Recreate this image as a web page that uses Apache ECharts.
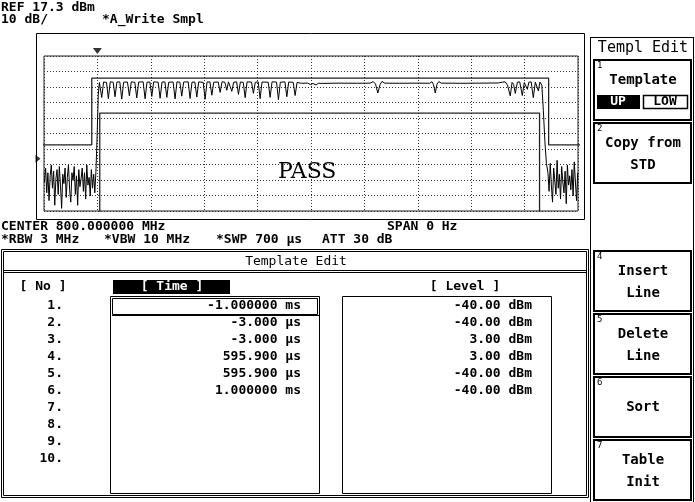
<!DOCTYPE html>
<html>
<head>
<meta charset="utf-8">
<script src="https://cdn.jsdelivr.net/npm/echarts@6/dist/echarts.min.js"></script>
<style>
  html, body { margin: 0; padding: 0; background: #fff; }
  #chart { width: 695px; height: 502px; }
</style>
</head>
<body>
<div id="chart"></div>
<script>
// ---- Analyzer settings ----
const refLevel = 17.3;          // dBm at top of screen
const dbPerDiv = 10;            // dB per vertical division
const sweepUs = 700;            // sweep time, µs
const sweepStartUs = -65.6;     // time at left edge of screen, µs
const trigLevel = -49;          // dBm, trigger level marker
const centerText = 'CENTER 800.000000 MHz';
const spanText = 'SPAN 0 Hz';

// ---- Upper template (table contents) ----
const upTimesUs = [-1000, -3, -3, 595.9, 595.9, 1000];
const upLevels  = [-40, -40, 3, 3, -40, -40];

// ---- Lower template ----
const lowTimesUs = [-1000, 7.5, 7.5, 584, 584, 1000];
const lowLevels  = [-200, -200, -19.5, -19.5, -200, -200];

// ---- Measured burst trace [time µs, level dBm] ----
const trace = [
  [-65,-64],[-63.5,-55],[-62,-71],[-60.5,-58],[-59,-76],[-57.5,-60],[-56,-53],[-54.5,-68],
  [-53,-57],[-51.5,-79],[-50,-62],[-48.5,-56],[-47,-72],[-45.5,-54],[-44,-66],[-42.5,-81],
  [-41,-59],[-39.5,-65],[-38,-55],[-36.5,-74],[-35,-61],[-33.5,-53],[-32,-69],[-30.5,-77],
  [-29,-58],[-27.5,-63],[-26,-54],[-24.5,-72],[-23,-60],[-21.5,-79],[-20,-56],[-18.5,-67],
  [-17,-62],[-15.5,-55],[-14,-70],[-12.5,-58],[-11,-75],[-9.5,-53],[-8,-66],[-6.5,-61],
  [-5,-73],[-3.5,-56],[-2,-68],[-0.5,-59],[1,-71],[2.5,-57],
  [4,-35],[5.5,-8],[7,0.2],
  [10.1,-9.5],[12.5,0.5],[16.3,0.3],
  [18.8,-10.2],[21.2,0.6],[25.1,0.4],
  [27.5,-9.0],[30.0,0.5],[33.8,0.6],
  [36.3,-10.5],[38.8,0.4],[43.8,0.5],
  [46.3,-8.4],[48.8,0.6],[53.5,0.3],
  [56.0,-9.8],[58.5,0.5],[64.4,0.6],
  [66.9,-10.3],[69.4,0.4],[73.2,0.5],
  [75.7,-8.8],[78.2,0.6],[84.1,0.4],
  [86.6,-10.0],[89.1,0.5],[92.9,0.6],
  [95.4,-9.4],[97.9,0.4],[103.7,0.5],
  [106.2,-10.4],[108.7,0.6],[112.5,0.4],
  [115.0,-8.6],[117.5,0.5],[123.4,0.6],
  [125.9,-10.1],[128.4,0.4],[132.2,0.5],
  [134.7,-9.2],[137.2,0.6],[143.1,0.3],
  [145.6,-10.6],[148.1,0.5],[151.9,0.6],
  [154.4,-8.0],[156.9,0.4],[162.8,0.5],
  [165.3,-6.2],[167.8,0.7],[171.5,0.4],
  [174.0,-4.8],[176.2,0.6],[178.4,0.5],
  [180.6,-5.5],[183.0,0.4],[186.9,0.6],
  [189.3,-7.4],[191.8,0.5],[195.6,0.3],
  [198.1,-9.6],[200.6,0.6],[206.4,0.5],
  [208.9,-6.8],[211.4,0.4],[215.2,0.6],
  [217.7,-10.2],[220.2,0.5],[228.3,0.4],
  [230.8,-9.4],[233.3,0.6],[239.2,0.5],
  [241.7,-10.8],[244.2,0.4],[250.2,0.6],
  [252.7,-9.0],[255.2,0.5],[261.1,0.3],
  [263.6,-8.2],[266.1,0.2],
  [272,-0.3],[280,-0.2],[284,-1.2],[287,-0.4],[291,-1.4],[294,-0.3],[300,-0.4],[320,-0.2],
  [345,-0.3],[362,-0.2],[366,0.8],[369,-0.8],[372,-6.6],[375,-1.0],[377.5,0.9],[381,-0.2],
  [400,-0.3],[425,-0.2],[440,-0.3],[443,0.7],[445,-1.2],[447.3,-6.6],[449.5,-0.9],[452,0.8],
  [455,-0.2],[480,-0.3],[510,-0.2],[530,-0.1],[535,0.4],[539,0.6],[542,-1.5],[545.6,-8.4],
  [548,0.3],[550,-1.0],[552.2,-6.8],[555,0.5],[558,0.6],[561.4,-8.2],[564,0.2],[566,-0.6],
  [568,-4.2],[570,0.4],[573,0.6],[575.8,-9.6],[578.5,0.5],[580.5,-0.4],[582.4,-5.2],[584.5,0.5],
  [587,-1.5],[589,-18],[591,-38],[593,-52],
  [595,-58],[596.5,-70],[598,-52],[599.5,-66],[601,-77],[602.5,-55],[604,-63],[605.5,-72],
  [607,-50],[608.5,-68],[610,-59],[611.5,-75],[613,-54],[614.5,-64],[616,-71],[617.5,-57],
  [619,-78],[620.5,-53],[622,-66],[623.5,-60],[625,-69],[626.5,-56],[628,-73],[629.5,-51],
  [631,-64],[632.5,-76],[634,-58]
];

// ---- Soft key labels ----
const softkeyTitle = 'Templ Edit';
const softkeyNums  = ['1', '2', '', '4', '5', '6', '7'];
const softkeyLines = [['Template'], ['Copy from', 'STD'], [], ['Insert', 'Line'], ['Delete', 'Line'], ['Sort'], ['Table', 'Init']];
const tableRows = 10;

// ---- Formatting helpers ----
function fmtTime(us) {
  return Math.abs(us) >= 1000 ? (us / 1000).toFixed(6) + ' ms' : us.toFixed(3) + ' µs';
}
function fmtLevel(dbm) { return dbm.toFixed(2) + ' dBm'; }

const MONO = '"DejaVu Sans Mono", monospace';
const g = [];
function text(x, y, str, o) {
  o = o || {};
  g.push({
    type: 'text', z: 20, silent: true,
    style: {
      x: x, y: y, text: str,
      font: (o.weight || 'bold') + ' ' + (o.size || 13) + 'px ' + (o.family || MONO),
      fill: o.fill || '#000', align: o.align || 'left', verticalAlign: 'middle'
    }
  });
}
function rect(x, y, w, h, o) {
  o = o || {};
  g.push({
    type: 'rect', z: o.z || 10, silent: true,
    shape: { x: x, y: y, width: w, height: h },
    style: { fill: o.fill || 'none', stroke: o.stroke === undefined ? '#000' : o.stroke, lineWidth: o.lw || 1 }
  });
}
function line(x1, y1, x2, y2, o) {
  o = o || {};
  g.push({
    type: 'line', z: 10, silent: true,
    shape: { x1: x1, y1: y1, x2: x2, y2: y2 },
    style: { stroke: o.stroke || '#000', lineWidth: o.lw || 1 }
  });
}

// Header
text(1, 8, 'REF ' + refLevel + ' dBm');
text(1, 20, dbPerDiv + ' dB/');
text(102, 20, '*A_Write Smpl');
// Plot frame
rect(36.5, 33.5, 548, 186);
// Footer
text(1, 227, centerText);
text(387, 227, spanText);
text(1, 240, '*RBW 3 MHz');
text(104, 240, '*VBW 10 MHz');
text(216, 240, '*SWP ' + sweepUs + ' µs');
text(322, 240, 'ATT 30 dB');

// Template Edit panel
rect(1.5, 249.5, 587, 248);
rect(3.5, 251.5, 583, 244);
line(3, 270.5, 587, 270.5);
line(3, 272.5, 587, 272.5);
text(296, 262, 'Template Edit', { align: 'center', weight: 'normal' });
text(43, 287, '[ No ]', { align: 'center' });
rect(113, 280, 117, 14, { fill: '#000', stroke: null });
text(172, 287, '[ Time ]', { align: 'center', fill: '#fff' });
text(465, 287, '[ Level ]', { align: 'center' });
rect(110.5, 296.5, 209, 197);
rect(342.5, 296.5, 209, 197);
rect(112.5, 298.5, 205, 16);
line(112, 315.5, 319, 315.5);
for (let i = 0; i < tableRows; i++) {
  const y = 306 + 17 * i;
  text(63, y, (i + 1) + '.', { align: 'right' });
  if (i < upTimesUs.length) {
    text(301, y, fmtTime(upTimesUs[i]), { align: 'right' });
    text(532, y, fmtLevel(upLevels[i]), { align: 'right' });
  }
}

// Soft key menu
line(590.5, 37, 590.5, 502);
line(693.5, 37, 693.5, 502);
line(590, 37.5, 694, 37.5);
text(643, 48, softkeyTitle, { align: 'center', size: 15, weight: 'normal' });
softkeyNums.forEach(function (num, i) {
  if (!num) return;
  const top = 59 + 63 * i + (i >= 3 ? 2 : 0);
  rect(594, top + 1, 97, 60, { lw: 2 });
  text(597, top + 7, num, { size: 9, weight: 'normal' });
  const lines = softkeyLines[i];
  if (lines.length === 1 && i !== 0) {
    text(643, top + 31, lines[0], { align: 'center', size: 14 });
  } else {
    lines.forEach(function (s, k) {
      text(643, top + 21 + 22 * k, s, { align: 'center', size: 14 });
    });
  }
  if (i === 0) {
    rect(597, top + 36, 43, 14, { fill: '#000', stroke: null });
    text(618, top + 43, 'UP', { align: 'center', size: 13, fill: '#fff' });
    rect(643.5, top + 36.5, 44, 13, { lw: 1.5 });
    text(665, top + 43, 'LOW', { align: 'center', size: 13 });
  }
});

// PASS verdict
text(278, 172, 'PASS', { size: 22, family: '"DejaVu Serif", serif', weight: 'normal' });

const chart = echarts.init(document.getElementById('chart'), null, { width: 695, height: 502 });
const hidden = { show: false };
chart.setOption({
  animation: false,
  backgroundColor: '#fff',
  grid: { left: 44, top: 56, width: 534, height: 155, show: true, borderColor: '#222', borderWidth: 1, backgroundColor: 'transparent' },
  xAxis: [
    { type: 'value', min: sweepStartUs, max: sweepStartUs + sweepUs, show: false },
    { type: 'value', min: 0, max: 10, interval: 1, axisLine: hidden, axisTick: hidden, axisLabel: hidden,
      splitLine: { show: true, lineStyle: { color: '#333', type: [1, 2], width: 1 } } }
  ],
  yAxis: [
    { type: 'value', min: refLevel - 10 * dbPerDiv, max: refLevel, show: false },
    { type: 'value', min: 0, max: 10, interval: 1, axisLine: hidden, axisTick: hidden, axisLabel: hidden,
      splitLine: { show: true, lineStyle: { color: '#333', type: [1, 2], width: 1 } } }
  ],
  series: [
    { type: 'line', name: 'UP', data: upTimesUs.map(function (t, i) { return [t, upLevels[i]]; }),
      symbol: 'none', lineStyle: { color: '#222', width: 1.3 }, clip: true, z: 3 },
    { type: 'line', name: 'LOW', data: lowTimesUs.map(function (t, i) { return [t, lowLevels[i]]; }),
      symbol: 'none', lineStyle: { color: '#222', width: 1.3 }, clip: true, z: 3 },
    { type: 'line', name: 'Trace A', data: trace, symbol: 'none',
      lineStyle: { color: '#000', width: 1 }, clip: true, z: 4 },
    { type: 'scatter', xAxisIndex: 1, yAxisIndex: 1, data: [[1, 10]], symbol: 'triangle',
      symbolSize: [9, 6], symbolRotate: 180, symbolOffset: [0, -5], itemStyle: { color: '#000' }, clip: false, silent: true },
    { type: 'scatter', data: [[sweepStartUs, trigLevel]], symbol: 'triangle',
      symbolSize: [8, 5], symbolRotate: -90, symbolOffset: [-6, 0], itemStyle: { color: '#000' }, clip: false, silent: true }
  ],
  graphic: g
});
</script>
</body>
</html>
